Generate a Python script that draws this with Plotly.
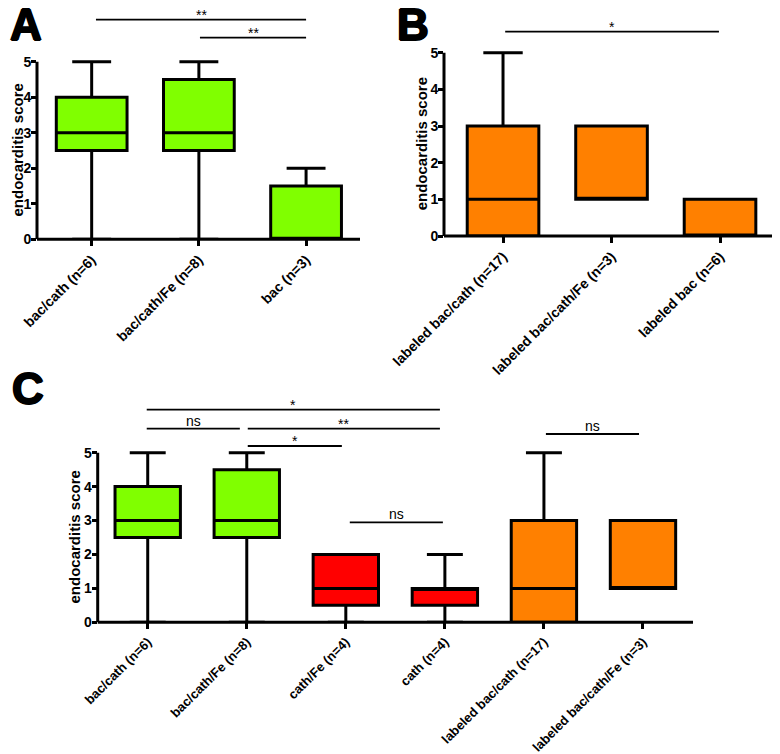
import plotly.graph_objects as go

W, H = 780, 754
OFF = 8  # page body margin of the browser

# ---------------- data ----------------
a_cats = ["bac/cath (n=6)", "bac/cath/Fe (n=8)", "bac (n=3)"]
a_min = [0, 0, 0]
a_q1 = [2.5, 2.5, 0]
a_med = [3, 3, 0]
a_q3 = [4, 4.5, 1.5]
a_max = [5, 5, 2]
a_colors = ["#80FF00", "#80FF00", "#80FF00"]

b_cats = ["labeled bac/cath (n=17)", "labeled bac/cath/Fe (n=3)", "labeled bac (n=6)"]
b_min = [0, 1, 0]
b_q1 = [0, 1, 0]
b_med = [1, 1, 0]
b_q3 = [3, 3, 1]
b_max = [5, 3, 1]
b_colors = ["#FF8000", "#FF8000", "#FF8000"]

c_cats = ["bac/cath (n=6)", "bac/cath/Fe (n=8)", "cath/Fe (n=4)", "cath (n=4)",
          "labeled bac/cath (n=17)", "labeled bac/cath/Fe (n=3)"]
c_min = [0, 0, 0, 0, 0, 1]
c_q1 = [2.5, 2.5, 0.5, 0.5, 0, 1]
c_med = [3, 3, 1, 1, 1, 1]
c_q3 = [4, 4.5, 2, 1, 3, 3]
c_max = [5, 5, 2, 2, 5, 3]
c_colors = ["#80FF00", "#80FF00", "#FF0000", "#FF0000", "#FF8000", "#FF8000"]

y_ticks = [0, 1, 2, 3, 4, 5]
y_title = "endocarditis score"

# significance brackets: label, from (category index), to (category index)
a_sig_text = ["**", "**"]
a_sig_from = [0.04, 1.01]
a_sig_to = [2.0, 2.0]

b_sig_text = ["*"]
b_sig_from = [0.02]
b_sig_to = [1.99]

c_sig_text = ["*", "ns", "**", "*", "ns", "ns"]
c_sig_from = [-0.01, -0.01, 1.01, 1.01, 2.04, 4.02]
c_sig_to = [2.95, 0.93, 2.95, 1.96, 2.98, 4.96]

# ---------------- layout geometry (screen pixels) ----------------
def px(x):
    return (x - OFF) / W

def py(y):
    return 1 - (y - OFF) / H

YTOP = 5.06
panels = {
    "A": dict(xa="x", ya="y", x0=37, x1=360, y5=61.7, ybot=239.3, xr=[-0.51, 2.503]),
    "B": dict(xa="x2", ya="y2", x0=444, x1=772, y5=52.7, ybot=236.0, xr=[-0.544, 2.479]),
    "C": dict(xa="x3", ya="y3", x0=97.7, x1=693, y5=452.7, ybot=622.3, xr=[-0.505, 5.505]),
}
sig_rows = {
    "A": [19.7, 37.7],
    "B": [31.7],
    "C": [409.7, 428.7, 428.7, 446.0, 522.3, 434.0],
}
title_x = {"A": 17, "B": 421, "C": 74}
letter_pos = {"A": (8, -2), "B": (395, -2), "C": (10, 362)}

FONT = "Liberation Sans, Arial, sans-serif"
tick_size = {"A": 14, "B": 14, "C": 13}

fig = go.Figure()

def add_boxes(key, cats, mn, q1, med, q3, mx, colors):
    p = panels[key]
    for i, c in enumerate(cats):
        fig.add_trace(go.Box(
            x=[c], q1=[q1[i]], median=[med[i]], q3=[q3[i]],
            lowerfence=[mn[i]], upperfence=[mx[i]],
            width=0.66, whiskerwidth=0.55,
            fillcolor=colors[i],
            line=dict(color="black", width=3),
            boxpoints=False, showlegend=False, hoverinfo="skip",
            xaxis=p["xa"], yaxis=p["ya"],
        ))

add_boxes("A", a_cats, a_min, a_q1, a_med, a_q3, a_max, a_colors)
add_boxes("B", b_cats, b_min, b_q1, b_med, b_q3, b_max, b_colors)
add_boxes("C", c_cats, c_min, c_q1, c_med, c_q3, c_max, c_colors)

shapes = []
annotations = []

layout_axes = {}
for key, p in panels.items():
    xname = "xaxis" if p["xa"] == "x" else "xaxis" + p["xa"][1:]
    yname = "yaxis" if p["ya"] == "y" else "yaxis" + p["ya"][1:]
    unit = (p["ybot"] - p["y5"]) / 5
    ytop = p["ybot"] - YTOP * unit
    layout_axes[xname] = dict(
        domain=[px(p["x0"]), px(p["x1"])],
        anchor=p["ya"], type="category", range=p["xr"],
        showline=False, automargin=False,
        ticks="outside", ticklen=6, tickwidth=2.5, tickcolor="black",
        tickangle=-45, showgrid=False, zeroline=False,
        tickfont=dict(family=FONT, size=tick_size[key], color="black", weight="bold"),
        fixedrange=True,
    )
    layout_axes[yname] = dict(
        domain=[py(p["ybot"]), py(ytop)],
        anchor=p["xa"], range=[0, YTOP], automargin=False,
        showline=False, ticks="outside", ticklen=5, tickwidth=2.5, tickcolor="black",
        tickvals=y_ticks, showgrid=False, zeroline=False, ticklabelstandoff=-3,
        tickfont=dict(family=FONT, size=14, color="black", weight="bold"),
        fixedrange=True,
    )
    # y axis line from 0 to 5
    shapes.append(dict(type="line", xref=p["xa"] + " domain", x0=0, x1=0,
                       yref=p["ya"], y0=0, y1=5,
                       line=dict(color="black", width=3)))
    # x axis line centred on y = 0 (covers whisker caps at 0)
    shapes.append(dict(type="line", xref=p["xa"] + " domain", x0=0, x1=1,
                       yref="paper", y0=py(p["ybot"]), y1=py(p["ybot"]),
                       line=dict(color="black", width=3)))
    # y title
    annotations.append(dict(
        text=y_title, textangle=-90, xref="paper", yref="paper",
        x=px(title_x[key]), y=py((p["ybot"] + p["y5"]) / 2),
        xanchor="center", yanchor="middle", showarrow=False,
        font=dict(family=FONT, size=15, color="black", weight="bold"),
    ))
    # panel letter
    lx, ly = letter_pos[key]
    annotations.append(dict(
        text=key, xref="paper", yref="paper", x=px(lx), y=py(ly),
        xanchor="left", yanchor="top", showarrow=False,
        font=dict(family=FONT, size=44, color="black", weight="bold",
                  shadow="1px 0px 0px #000, -1px 0px 0px #000, 0px 1px 0px #000, 0px -1px 0px #000"),
    ))

def add_sig(key, texts, froms, tos):
    p = panels[key]
    for i, t in enumerate(texts):
        yrow = sig_rows[key][i]
        shapes.append(dict(type="line", xref=p["xa"], x0=froms[i], x1=tos[i],
                           yref="paper", y0=py(yrow), y1=py(yrow),
                           line=dict(color="black", width=1.8)))
        is_star = "*" in t
        annotations.append(dict(
            text=t, xref=p["xa"], yref="paper",
            x=(froms[i] + tos[i]) / 2, y=py(yrow + (5 if is_star else 2)),
            xanchor="center", yanchor="bottom", showarrow=False,
            font=dict(family=FONT, size=14, color="black"),
        ))

add_sig("A", a_sig_text, a_sig_from, a_sig_to)
add_sig("B", b_sig_text, b_sig_from, b_sig_to)
add_sig("C", c_sig_text, c_sig_from, c_sig_to)

fig.update_layout(
    width=W, height=H,
    margin=dict(l=0, r=0, t=0, b=0, autoexpand=False),
    paper_bgcolor="white", plot_bgcolor="white",
    boxmode="overlay",
    shapes=shapes, annotations=annotations,
    showlegend=False,
    **layout_axes,
)

fig.write_html("out.html")
